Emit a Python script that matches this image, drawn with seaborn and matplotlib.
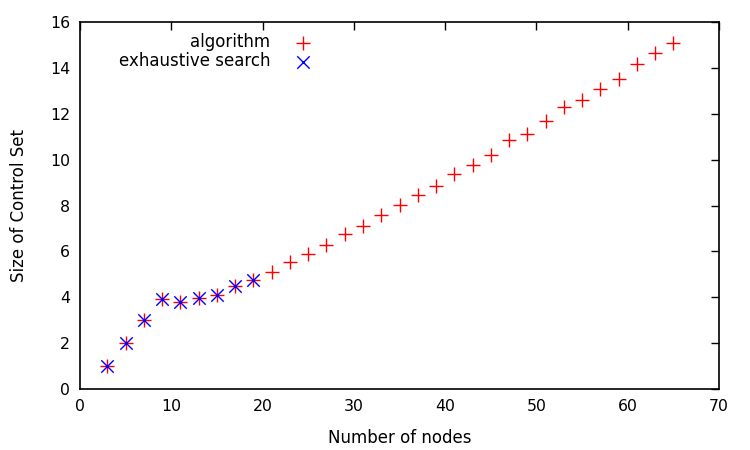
import matplotlib
matplotlib.use("Agg")
import matplotlib.pyplot as plt
import seaborn as sns
import pandas as pd

# Data
alg_nodes = [3, 5, 7, 9, 11, 13, 15, 17, 19, 21, 23, 25, 27, 29, 31, 33, 35, 37, 39,
             41, 43, 45, 47, 49, 51, 53, 55, 57, 59, 61, 63, 65]
alg_size = [1.0, 2.0, 3.0, 3.93, 3.8, 3.97, 4.11, 4.51, 4.77, 5.1, 5.52, 5.9, 6.27,
            6.76, 7.12, 7.58, 8.02, 8.45, 8.83, 9.37, 9.76, 10.21, 10.85, 11.13,
            11.7, 12.31, 12.6, 13.1, 13.5, 14.17, 14.66, 15.1]
exh_nodes = [3, 5, 7, 9, 11, 13, 15, 17, 19]
exh_size = [1.0, 2.0, 3.0, 3.93, 3.8, 3.97, 4.11, 4.51, 4.77]

x_ticks = [0, 10, 20, 30, 40, 50, 60, 70]
y_ticks = [0, 2, 4, 6, 8, 10, 12, 14, 16]

sns.set_theme(style="white")
plt.rcParams['font.family'] = ['DejaVu Sans']
plt.rcParams['text.color'] = 'black'
plt.rcParams['axes.labelcolor'] = 'black'

df_alg = pd.DataFrame({"nodes": alg_nodes, "size": alg_size})
df_exh = pd.DataFrame({"nodes": exh_nodes, "size": exh_size})

fig = plt.figure(figsize=(7.5, 4.5), dpi=100)
ax = fig.add_axes([0.1067, 0.1356, 0.852, 0.8154])

sns.scatterplot(data=df_alg, x="nodes", y="size", marker="+", s=110, color="#ff0000",
                linewidth=1.0, ax=ax, label="algorithm", zorder=3)
sns.scatterplot(data=df_exh, x="nodes", y="size", marker="x", s=80, color="#0000ff",
                linewidth=1.0, ax=ax, label="exhaustive search", zorder=4)

ax.set_xlim(0, 70)
ax.set_ylim(0, 16)
ax.set_xticks(x_ticks)
ax.set_yticks(y_ticks)
ax.set_xlabel("Number of nodes", fontsize=12, labelpad=11)
ax.set_ylabel("Size of Control Set", fontsize=12, labelpad=16)
ax.tick_params(direction="in", length=6, width=1, top=True, right=True,
               labelsize=11.3, colors="black", pad=7)
for sp in ax.spines.values():
    sp.set_color("black")
    sp.set_linewidth(1.2)
    sp.set_visible(True)

leg = ax.legend(loc="upper right", bbox_to_anchor=(0.385, 1.0), markerfirst=False,
                frameon=False, fontsize=12, handletextpad=1.2, labelspacing=0.08,
                borderaxespad=0.25, handlelength=1.5)
for col in leg._legend_box._children[1]._children:
    col.align = "right"
for t in leg.get_texts():
    t.set_color("black")

fig.savefig("out.png", dpi=100)
